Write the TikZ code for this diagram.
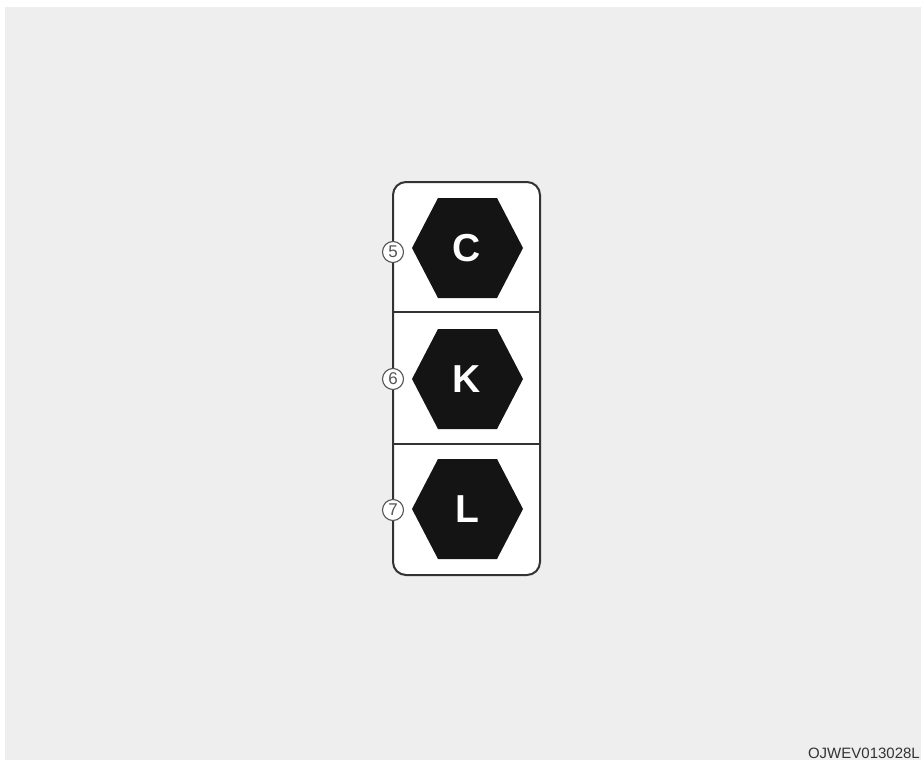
\documentclass[tikz,border=0pt]{standalone}
\usepackage{fontspec}
\setmainfont{Liberation Sans}
\definecolor{bg}{HTML}{EEEEEE}
\definecolor{frame}{HTML}{333333}
\definecolor{numgray}{HTML}{555555}
\begin{document}
\begin{tikzpicture}[x=1pt,y=-1pt,
  hexa/.style={fill=black!92},
  letter/.style={text=white,font=\fontsize{39}{39}\selectfont\bfseries,inner sep=0pt},
  numcirc/.style={circle,draw=numgray,fill=white,line width=1.1pt,minimum size=21pt,inner sep=0pt,text=numgray,font=\fontsize{17}{17}\selectfont},
  boxline/.style={draw=frame,line width=2pt}]
\useasboundingbox (0,0) rectangle (921,760);
\fill[white] (0,0) rectangle (921,760);
\fill[bg] (5,7) rectangle (921,760);
% box
\draw[boxline,fill=white,rounded corners=13pt] (393,182) rectangle (540,575);
\draw[boxline] (393,312) -- (540,312);
\draw[boxline] (393,444) -- (540,444);
% hexagons
\foreach \n/\cy/\t/\num/\ny in {C/248/C/5/252, K/379/K/6/379, L/509/L/7/510}{
  \fill[hexa] (412,\cy) -- (438,\cy-50) -- (497,\cy-50) -- (523,\cy) -- (497,\cy+50) -- (438,\cy+50) -- cycle;
  \node[letter] (l\n) at (467,\cy) {\t};
  \node[numcirc] (n\n) at (393,\ny) {\num};
}
\node[anchor=base east,text=frame,font=\fontsize{15}{15}\selectfont,inner sep=0pt] (code) at (920,758) {OJWEV013028L};
\end{tikzpicture}
\end{document}
